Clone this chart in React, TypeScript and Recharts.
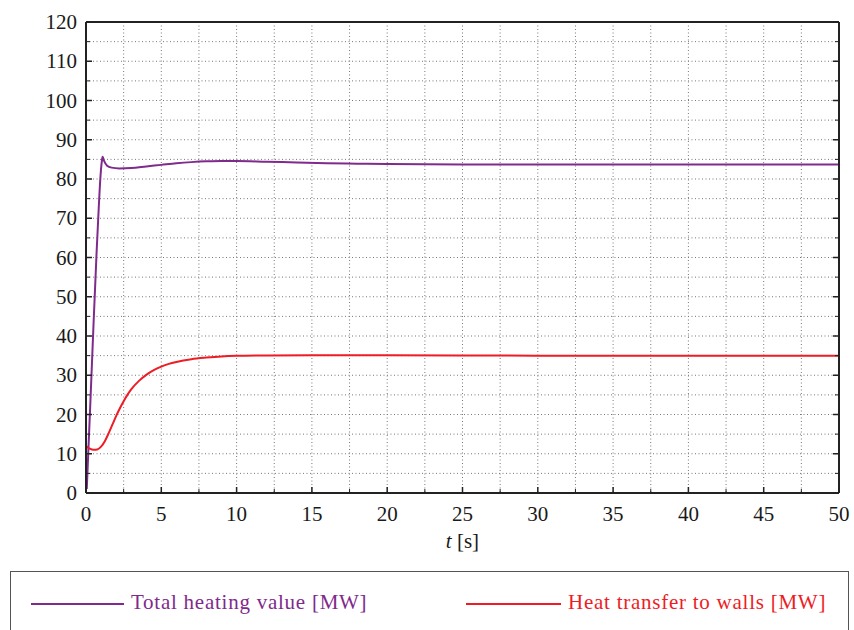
import { CartesianGrid, Legend, Line, LineChart, XAxis, YAxis } from 'recharts';

// time [s] and values [MW]
const heatingTime = [0.05, 0.3, 0.5, 0.7, 0.85, 0.95, 1.05, 1.1, 1.2, 1.4, 1.7, 2.2, 3, 4, 5, 6, 7, 8, 9, 10, 12, 14, 16, 18, 20, 25, 30, 40, 50];
const heatingValue = [1, 24, 43, 61, 73, 80, 84.5, 85.7, 84.6, 83.4, 82.9, 82.7, 82.8, 83.2, 83.6, 84.0, 84.3, 84.5, 84.6, 84.6, 84.4, 84.2, 84.0, 83.9, 83.8, 83.7, 83.7, 83.7, 83.7];

const wallTime = [0, 0.25, 0.5, 0.75, 1.0, 1.25, 1.5, 1.75, 2.0, 2.25, 2.5, 2.75, 3.0, 3.5, 4.0, 4.5, 5.0, 5.5, 6.0, 7.0, 8.0, 9.0, 10, 12, 15, 20, 30, 50];
const wallValue = [12, 11.3, 11.0, 11.1, 11.8, 13.2, 15.2, 17.4, 19.6, 21.6, 23.4, 25.0, 26.4, 28.5, 30.1, 31.3, 32.2, 32.9, 33.4, 34.1, 34.5, 34.8, 34.95, 35.05, 35.1, 35.1, 35.0, 35.0];

const xTicks = [0, 2.5, 5, 7.5, 10, 12.5, 15, 17.5, 20, 22.5, 25, 27.5, 30, 32.5, 35, 37.5, 40, 42.5, 45, 47.5, 50];
const yTicks = [0, 5, 10, 15, 20, 25, 30, 35, 40, 45, 50, 55, 60, 65, 70, 75, 80, 85, 90, 95, 100, 105, 110, 115, 120];

const heatingData = heatingTime.map((t, i) => ({ t, v: heatingValue[i] }));
const wallData = wallTime.map((t, i) => ({ t, v: wallValue[i] }));

const PURPLE = '#7f2a8c';
const RED = '#ee1c25';
const INK = '#222';
const FONT = '"Liberation Serif", "Times New Roman", Times, Tinos, "DejaVu Serif", serif';

const BottomTick = ({ x, y, payload }: any) => {
  const major = payload.value % 5 === 0;
  return (
    <g>
      <line x1={x} x2={x} y1={y} y2={y - (major ? 6 : 4)} stroke={INK} strokeWidth={major ? 1.5 : 1} />
      {major && (
        <text x={x} y={y + 28} textAnchor="middle" fontFamily={FONT} fontSize={21} fill="#1a1a1a">
          {payload.value}
        </text>
      )}
    </g>
  );
};

const TopTick = ({ x, y, payload }: any) => {
  const major = payload.value % 5 === 0;
  return <line x1={x} x2={x} y1={y} y2={y + (major ? 6 : 4)} stroke={INK} strokeWidth={major ? 1.5 : 1} />;
};

const LeftTick = ({ x, y, payload }: any) => {
  const major = payload.value % 10 === 0;
  return (
    <g>
      <line x1={x} x2={x + (major ? 6 : 4)} y1={y} y2={y} stroke={INK} strokeWidth={major ? 1.5 : 1} />
      {major && (
        <text x={x - 9} y={y + 7} textAnchor="end" fontFamily={FONT} fontSize={21} fill="#1a1a1a">
          {payload.value}
        </text>
      )}
    </g>
  );
};

const RightTick = ({ x, y, payload }: any) => {
  const major = payload.value % 10 === 0;
  return <line x1={x} x2={x - (major ? 6 : 4)} y1={y} y2={y} stroke={INK} strokeWidth={major ? 1.5 : 1} />;
};

const XLabel = ({ viewBox }: any) => (
  <text x={viewBox.x + viewBox.width / 2} y={viewBox.y + 55} textAnchor="middle" fontFamily={FONT} fontSize={21} fill="#1a1a1a">
    <tspan fontStyle="italic">t</tspan> [s]
  </text>
);

const LegendBox = () => (
  <div
    style={{
      position: 'relative',
      boxSizing: 'border-box',
      width: 839,
      height: 64,
      border: '1px solid #555',
      fontFamily: FONT,
      fontSize: 21,
      letterSpacing: 0.75,
    }}
  >
    <div style={{ position: 'absolute', left: 20, top: 31, width: 93, height: 2, background: PURPLE }} />
    <span style={{ position: 'absolute', left: 120, top: 18, color: PURPLE, whiteSpace: 'nowrap' }}>Total heating value [MW]</span>
    <div style={{ position: 'absolute', left: 455, top: 31, width: 95, height: 2, background: RED }} />
    <span style={{ position: 'absolute', left: 557, top: 18, color: RED, whiteSpace: 'nowrap' }}>Heat transfer to walls [MW]</span>
  </div>
);

export default function App() {
  return (
    <div style={{ width: 854, height: 630, background: '#fff' }}>
      <style>{'body{margin:0}'}</style>
      <LineChart width={854} height={630} margin={{ top: 0, right: 0, bottom: 77, left: 0 }}>
        <CartesianGrid stroke="#777" strokeDasharray="1 2.5" strokeWidth={1} />
        <XAxis
          dataKey="t"
          type="number"
          domain={[0, 50]}
          ticks={xTicks}
          interval={0}
          height={60}
          tickSize={0}
          tickMargin={0}
          tickLine={false}
          tick={<BottomTick />}
          axisLine={{ stroke: INK, strokeWidth: 2 }}
          label={<XLabel />}
          allowDataOverflow
        />
        <XAxis
          xAxisId="top"
          orientation="top"
          type="number"
          domain={[0, 50]}
          ticks={xTicks}
          interval={0}
          height={22}
          tickSize={0}
          tickMargin={0}
          tickLine={false}
          tick={<TopTick />}
          axisLine={{ stroke: INK, strokeWidth: 2 }}
          allowDataOverflow
        />
        <YAxis
          type="number"
          domain={[0, 120]}
          ticks={yTicks}
          interval={0}
          width={86}
          tickSize={0}
          tickMargin={0}
          tickLine={false}
          tick={<LeftTick />}
          axisLine={{ stroke: INK, strokeWidth: 2 }}
          allowDataOverflow
        />
        <YAxis
          yAxisId="right"
          orientation="right"
          type="number"
          domain={[0, 120]}
          ticks={yTicks}
          interval={0}
          width={15}
          tickSize={0}
          tickMargin={0}
          tickLine={false}
          tick={<RightTick />}
          axisLine={{ stroke: INK, strokeWidth: 2 }}
          allowDataOverflow
        />
        <Legend
          layout="horizontal"
          verticalAlign="middle"
          align="center"
          wrapperStyle={{ top: 571, left: 10, width: 839 }}
          content={<LegendBox />}
        />
        <Line
          data={heatingData}
          dataKey="v"
          name="Total heating value [MW]"
          type="monotone"
          stroke={PURPLE}
          strokeWidth={2}
          dot={false}
          isAnimationActive={false}
        />
        <Line
          data={wallData}
          dataKey="v"
          name="Heat transfer to walls [MW]"
          type="monotone"
          stroke={RED}
          strokeWidth={2}
          dot={false}
          isAnimationActive={false}
        />
      </LineChart>
    </div>
  );
}
